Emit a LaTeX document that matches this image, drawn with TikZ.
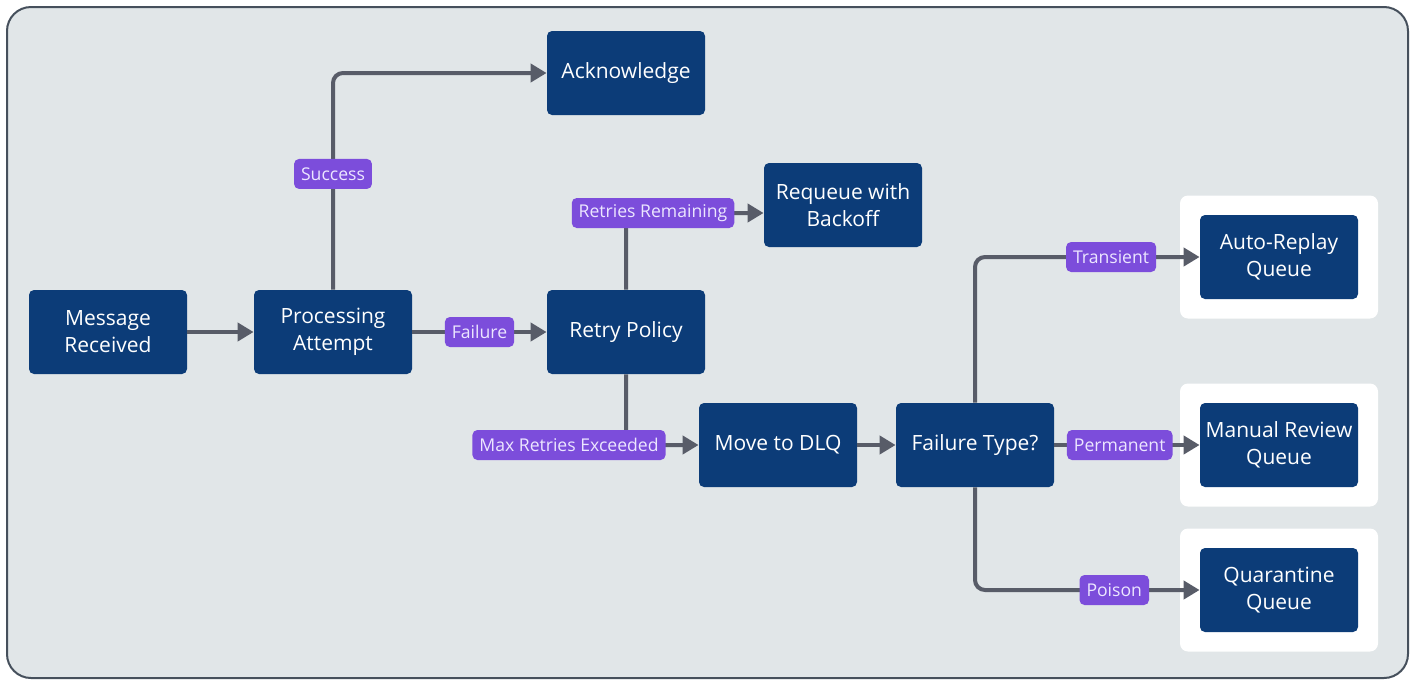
\documentclass[tikz,border=0pt]{standalone}
\usepackage{fontspec}
\setmainfont{Open Sans}
\usetikzlibrary{arrows.meta,positioning}
\definecolor{navy}{RGB}{12,60,120}
\definecolor{tagpurple}{RGB}{124,77,219}
\definecolor{tagtext}{RGB}{236,230,255}
\definecolor{linegray}{RGB}{88,92,104}
\definecolor{canvas}{RGB}{225,230,232}
\definecolor{framegray}{RGB}{70,80,92}

\begin{document}
\begin{tikzpicture}[x=0.5pt,y=-0.5pt,
    box/.style={fill=navy,rounded corners=2.5pt,minimum width=79pt,minimum height=42pt,
      text=white,align=center,inner sep=2pt,font=\fontsize{10.5}{13.5}\selectfont},
    tag/.style={fill=tagpurple,rounded corners=2.5pt,text=tagtext,inner xsep=3.5pt,
      inner ysep=0pt,minimum height=15pt,font=\fontsize{8.8}{10}\selectfont},
    flow/.style={draw=linegray,line width=2pt,rounded corners=5pt,
      -{Triangle[length=8pt,width=9pt]}},
    holder/.style={fill=white,rounded corners=4pt,minimum width=99pt,minimum height=61.5pt}]
    \useasboundingbox (0,0) rectangle (1415,681);
    \fill[white] (0,0) rectangle (1415,681);
    \draw[framegray,line width=1pt,fill=canvas,rounded corners=12pt] (7,7) rectangle (1408,678);

    % queue holders
    \node[holder] (autoh) at (1279,257) {};
    \node[holder] (manh) at (1279,445) {};
    \node[holder] (quarh) at (1279,590) {};

    % boxes
    \node[box] (msg) at (108,332) {Message\\Received};
    \node[box] (proc) at (333,332) {Processing\\Attempt};
    \node[box] (ack) at (626,73) {Acknowledge};
    \node[box] (retry) at (626,332) {Retry Policy};
    \node[box] (requeue) at (843,205) {Requeue with\\Backoff};
    \node[box] (dlq) at (778,445) {Move to DLQ};
    \node[box] (ftype) at (975,445) {Failure Type?};
    \node[box] (auto) at (1279,257) {Auto-Replay\\Queue};
    \node[box] (manual) at (1279,445) {Manual Review\\Queue};
    \node[box] (quar) at (1279,590) {Quarantine\\Queue};

    % connectors
    \draw[flow] (msg) -- (proc);
    \draw[flow] (proc.north) |- node[tag,pos=0.267] {Success} (ack.west);
    \draw[flow] (proc) -- node[tag] {Failure} (retry);
    \draw[flow] (retry.north) |- node[tag,pos=0.5,xshift=13.5pt] {Retries Remaining} ([yshift=-4pt]requeue.west);
    \draw[flow] (retry.south) |- node[tag,pos=0.5,xshift=-28.5pt] {Max Retries Exceeded} (dlq.west);
    \draw[flow] (dlq) -- (ftype);
    \draw[flow] (ftype.north) |- node[tag,pos=0.803] {Transient} (auto.west);
    \draw[flow] (ftype) -- node[tag,pos=0.45] {Permanent} (manual);
    \draw[flow] (ftype.south) |- node[tag,pos=0.81] {Poison} (quar.west);
\end{tikzpicture}
\end{document}
